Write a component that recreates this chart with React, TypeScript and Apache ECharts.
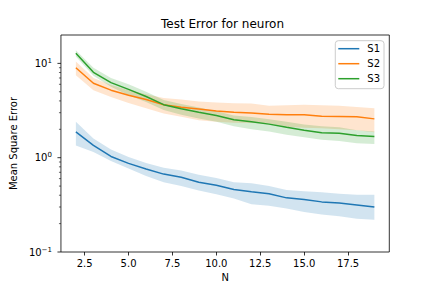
import React, { useEffect, useRef } from 'react';
import * as echarts from 'echarts';

const N = [2, 3, 4, 5, 6, 7, 8, 9, 10, 11, 12, 13, 14, 15, 16, 17, 18, 19];

const s1Mean = [1.88, 1.35, 1.03, 0.87, 0.76, 0.67, 0.62, 0.55, 0.51, 0.46, 0.435, 0.415, 0.375, 0.36, 0.34, 0.33, 0.315, 0.3];
const s1Upper = [2.4, 1.6, 1.22, 1.02, 0.88, 0.78, 0.73, 0.66, 0.61, 0.55, 0.535, 0.5, 0.455, 0.44, 0.43, 0.415, 0.405, 0.405];
const s1Lower = [1.35, 1.15, 0.92, 0.77, 0.64, 0.55, 0.5, 0.45, 0.41, 0.37, 0.32, 0.31, 0.29, 0.265, 0.25, 0.24, 0.225, 0.22];

const s2Mean = [9.0, 6.15, 5.2, 4.6, 4.15, 3.65, 3.42, 3.28, 3.12, 3.03, 2.98, 2.88, 2.86, 2.86, 2.75, 2.74, 2.72, 2.58];
const s2Upper = [10.5, 7.0, 5.9, 5.2, 4.7, 4.3, 4.15, 3.95, 3.85, 3.77, 3.75, 3.55, 3.6, 3.65, 3.6, 3.55, 3.45, 3.35];
const s2Lower = [7.5, 5.2, 4.4, 3.8, 3.35, 2.95, 2.72, 2.5, 2.4, 2.35, 2.33, 2.3, 2.13, 2.08, 2.05, 2.0, 1.95, 1.86];

const s3Mean = [12.8, 8.05, 6.25, 5.3, 4.45, 3.65, 3.3, 3.03, 2.8, 2.52, 2.4, 2.27, 2.1, 1.95, 1.84, 1.82, 1.72, 1.68];
const s3Upper = [13.8, 9.0, 7.0, 6.0, 5.0, 4.1, 3.7, 3.4, 3.1, 2.8, 2.7, 2.55, 2.4, 2.25, 2.15, 2.1, 1.95, 1.9];
const s3Lower = [11.8, 7.4, 5.66, 4.6, 3.9, 3.2, 2.85, 2.6, 2.4, 2.15, 2.0, 1.9, 1.75, 1.65, 1.55, 1.5, 1.42, 1.4];

const seriesNames = ['S1', 'S2', 'S3'];
const xTicks = [2.5, 5.0, 7.5, 10.0, 12.5, 15.0, 17.5];
const yMajorTicks = [0.1, 1, 10];
const yMinorTicks = [0.2, 0.3, 0.4, 0.5, 0.6, 0.7, 0.8, 0.9, 2, 3, 4, 5, 6, 7, 8, 9];

const FONT = 'DejaVu Sans';

function bandSeries(lower: number[], upper: number[], fill: string) {
  return {
    type: 'custom',
    silent: true,
    z: 1,
    data: N.map((n, i) => [n, lower[i], upper[i]]),
    encode: { x: 0, y: [1, 2] },
    renderItem: (params: any, api: any) => {
      if (params.dataIndex !== 0) return null;
      const top = N.map((n, i) => api.coord([n, upper[i]]));
      const bot = N.map((n, i) => api.coord([n, lower[i]])).reverse();
      return {
        type: 'polygon',
        shape: { points: top.concat(bot) },
        style: { fill, stroke: 'none' },
      };
    },
  };
}

function lineSeries(name: string, values: number[], color: string) {
  return {
    type: 'line',
    name,
    z: 3,
    data: N.map((n, i) => [n, values[i]]),
    symbol: 'none',
    showSymbol: false,
    lineStyle: { color, width: 1.5 },
    itemStyle: { color },
  };
}

export default function App() {
  const ref = useRef<HTMLDivElement>(null);
  useEffect(() => {
    if (!ref.current) return;
    const chart = echarts.init(ref.current, null, { renderer: 'svg' });
    const option: any = {
      animation: false,
      backgroundColor: '#ffffff',
      textStyle: { fontFamily: FONT },
      title: {
        text: 'Test Error for neuron',
        left: 161,
        top: 17.5,
        padding: 0,
        textStyle: { fontFamily: FONT, fontSize: 12, fontWeight: 'normal', color: '#000' },
      },
      legend: {
        data: seriesNames,
        orient: 'vertical',
        right: 48,
        top: 40.7,
        padding: [2, 4, 4, 3],
        itemGap: 3,
        itemWidth: 21,
        itemHeight: 1.5,
        icon: 'rect',
        borderColor: '#cccccc',
        borderWidth: 1,
        borderRadius: 3,
        backgroundColor: 'rgba(255,255,255,0.8)',
        textStyle: { fontFamily: FONT, fontSize: 10, color: '#000', lineHeight: 12, padding: [0, 0, 0, 3] },
      },
      grid: {
        left: 53.5,
        right: 42.7,
        top: 35,
        bottom: 36,
        show: true,
        borderColor: '#000',
        borderWidth: 0.8,
        backgroundColor: 'transparent',
        containLabel: false,
      },
      xAxis: {
        type: 'value',
        min: 1.15,
        max: 19.85,
        axisLine: { show: false },
        splitLine: { show: false },
        axisTick: { show: true, length: 3.5, lineStyle: { color: '#000', width: 0.8 }, customValues: xTicks },
        axisLabel: {
          customValues: xTicks,
          formatter: (v: number) => v.toFixed(1),
          margin: 6,
          color: '#000',
          fontSize: 10,
          fontFamily: FONT,
        },
        name: 'N',
        nameLocation: 'middle',
        nameGap: 18.5,
        nameTextStyle: { fontFamily: FONT, fontSize: 10, color: '#000' },
      },
      yAxis: {
        type: 'log',
        logBase: 10,
        min: 0.1,
        max: 20,
        axisLine: { show: false },
        axisTick: { show: false },
        splitLine: { show: false },
        minorTick: { show: false },
        axisLabel: {
          margin: 9,
          showMaxLabel: false,
          color: '#000',
          fontFamily: FONT,
          formatter: (v: number) => {
            const e = Math.log10(v);
            const r = Math.round(e);
            if (Math.abs(e - r) > 1e-6) return '';
            const s = r < 0 ? '\u2212' + Math.abs(r) : String(r);
            return '{b|10}{e|' + s + '}';
          },
          rich: {
            b: { fontSize: 10, lineHeight: 12, color: '#000', fontFamily: FONT },
            e: { fontSize: 7, lineHeight: 7, verticalAlign: 'top', color: '#000', fontFamily: FONT },
          },
        },
        name: 'Mean Square Error',
        nameLocation: 'middle',
        nameGap: 37.5,
        nameTextStyle: { fontFamily: FONT, fontSize: 10, color: '#000' },
      },
      series: [
        bandSeries(s1Lower, s1Upper, 'rgba(31,119,180,0.2)'),
        bandSeries(s2Lower, s2Upper, 'rgba(255,127,14,0.2)'),
        bandSeries(s3Lower, s3Upper, 'rgba(44,160,44,0.2)'),
        lineSeries('S1', s1Mean, '#1f77b4'),
        lineSeries('S2', s2Mean, '#ff7f0e'),
        lineSeries('S3', s3Mean, '#2ca02c'),
      ],
    };
    chart.setOption(option);

    const x0 = chart.convertToPixel({ xAxisIndex: 0 }, 1.15) as number;
    const mk = (v: number, len: number, w: number) => {
      const py = chart.convertToPixel({ yAxisIndex: 0 }, v) as number;
      return {
        type: 'line',
        silent: true,
        shape: { x1: x0 - len, y1: py, x2: x0, y2: py },
        style: { stroke: '#000', lineWidth: w },
        z: 10,
      };
    };
    const graphics = [
      ...yMajorTicks.map((v) => mk(v, 3.5, 0.8)),
      ...yMinorTicks.map((v) => mk(v, 2, 0.6)),
    ];
    chart.setOption({ graphic: graphics });

    return () => chart.dispose();
  }, []);
  return (
    <div
      ref={ref}
      style={{ position: 'fixed', left: 0, top: 0, width: 432, height: 288 }}
    />
  );
}
